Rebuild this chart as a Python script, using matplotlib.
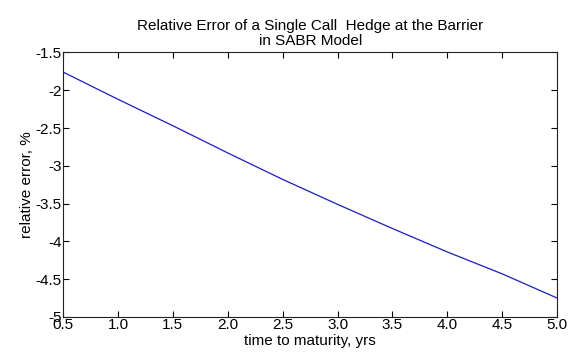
import matplotlib

matplotlib.use("Agg")
import matplotlib.pyplot as plt

# Relative hedge error vs. time to maturity
maturity = [0.5, 1.0, 1.5, 2.0, 2.5, 3.0, 3.5, 4.0, 4.5, 5.0]
rel_error = [-1.76, -2.12, -2.47, -2.83, -3.18, -3.51, -3.83, -4.14, -4.43, -4.75]

x_ticks = [0.5, 1.0, 1.5, 2.0, 2.5, 3.0, 3.5, 4.0, 4.5, 5.0]
x_ticklabels = ["0.5", "1.0", "1.5", "2.0", "2.5", "3.0", "3.5", "4.0", "4.5", "5.0"]
y_ticks = [-5, -4.5, -4, -3.5, -3, -2.5, -2, -1.5]
y_ticklabels = ["-5", "-4.5", "-4", "-3.5", "-3", "-2.5", "-2", "-1.5"]

plt.rcParams["font.family"] = ["Liberation Sans", "DejaVu Sans"]
plt.rcParams["font.size"] = 11

fig = plt.figure(figsize=(5.68, 3.59), dpi=100)
ax = fig.add_axes([0.111, 0.117, 0.870, 0.737])

ax.plot(maturity, rel_error, color="#1a1ad0", linewidth=0.9)

ax.set_xlim(0.5, 5.0)
ax.set_ylim(-5, -1.5)
ax.set_xticks(x_ticks)
ax.set_xticklabels(x_ticklabels)
ax.set_yticks(y_ticks)
ax.set_yticklabels(y_ticklabels)

ax.tick_params(direction="in", length=4, width=0.8, top=True, right=True,
               pad=1, labelsize=11)
for spine in ax.spines.values():
    spine.set_linewidth(0.8)
    spine.set_color("#222222")

ax.set_xlabel("time to maturity, yrs", labelpad=1)
ax.set_ylabel("relative error, %", labelpad=1)
ax.set_title("Relative Error of a Single Call  Hedge at the Barrier\nin SABR Model",
             fontsize=11, pad=5, linespacing=1.1)

fig.savefig("out.png", dpi=100)
